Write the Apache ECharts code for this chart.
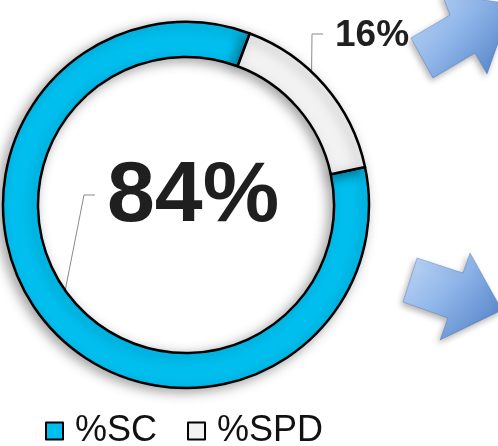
<!DOCTYPE html>
<html>
<head>
<meta charset="utf-8">
<title>%SC vs %SPD</title>
<script src="https://cdn.jsdelivr.net/npm/echarts@6/dist/echarts.min.js"></script>
<style>
  html, body { margin: 0; padding: 0; background: #fff; }
  #chart { width: 498px; height: 446px; }
</style>
</head>
<body>
<div id="chart"></div>
<script>
// data
const categories = ['%SC', '%SPD']
const values     = [84, 16]

const COLOR_SC  = '#00bfef'
const COLOR_SPD = '#f2f2f2'

const CENTER      = [186, 205]
const RADIUS      = [148, 183]
const START_ANGLE = 12
// where the label text sits (left / middle)
const LABEL_POS   = [[107, 197], [335, 36]]
const LABEL_SIZE  = [86, 37]

const total = values.reduce((a, b) => a + b, 0)

// anchor of the leader line: middle of the ring at the slice's mid angle
function anchorOf(i) {
  let before = 0
  for (let k = 0; k < i; k++) before += values[k]
  const mid = (START_ANGLE - (before + values[i] / 2) / total * 360) * Math.PI / 180
  const r = (RADIUS[0] + RADIUS[1]) / 2
  return [CENTER[0] + r * Math.cos(mid), CENTER[1] - r * Math.sin(mid)]
}

// decorative block arrows on the right
const arrowFill = new echarts.graphic.LinearGradient(0, 0, 1, 1, [
  { offset: 0, color: '#c3daf7' },
  { offset: 0.45, color: '#8fb5e9' },
  { offset: 1, color: '#4a7bc2' },
])
const arrowStyle = {
  fill: arrowFill,
  stroke: 'rgba(60,100,170,0.35)',
  lineWidth: 1,
  shadowBlur: 6,
  shadowColor: 'rgba(0,0,0,0.3)',
  shadowOffsetX: -2,
  shadowOffsetY: 3,
}

const chart = echarts.init(document.getElementById('chart'))

chart.setOption({
  animation: false,
  backgroundColor: '#fff',
  legend: {
    data: categories,
    left: 40,
    top: 408,
    itemWidth: 17,
    itemHeight: 17,
    itemGap: 30,
    icon: 'rect',
    itemStyle: { borderColor: '#000', borderWidth: 2 },
    textStyle: {
      fontFamily: 'Liberation Sans, Arial, sans-serif',
      fontSize: 36,
      color: '#111',
      padding: [0, 0, 0, 7],
    },
  },
  graphic: [
    {
      type: 'polygon',
      shape: { points: [[411, 38], [450, 15], [442, -6], [512, 4], [487, 74], [475, 53], [433, 78]] },
      style: arrowStyle,
    },
    {
      type: 'polygon',
      shape: { points: [[417, 258], [463, 273], [470, 253], [502, 310], [440, 340], [448, 318], [403, 302]] },
      style: arrowStyle,
    },
  ],
  series: [
    {
      type: 'pie',
      center: CENTER,
      radius: RADIUS,
      startAngle: START_ANGLE,
      clockwise: true,
      avoidLabelOverlap: false,
      silent: true,
      itemStyle: {
        borderColor: '#000',
        borderWidth: 2.5,
        shadowBlur: 12,
        shadowColor: 'rgba(0,0,0,0.35)',
        shadowOffsetX: -4,
        shadowOffsetY: 3,
      },
      label: {
        show: true,
        position: 'outside',
        formatter: '{c}%',
        fontFamily: 'Liberation Sans, Arial, sans-serif',
        fontWeight: 'bold',
        color: '#1f1f1f',
      },
      labelLine: {
        show: true,
        lineStyle: { color: '#8a8a8a', width: 1 },
      },
      labelLayout(params) {
        const i = params.dataIndex
        const [x, y] = LABEL_POS[i]
        return {
          x, y,
          align: 'left',
          verticalAlign: 'middle',
          labelLinePoints: [anchorOf(i), [x - 23, y - 2], [x - 12, y - 2]],
        }
      },
      data: categories.map((name, i) => ({
        name,
        value: values[i],
        itemStyle: { color: i === 0 ? COLOR_SC : COLOR_SPD },
        label: { fontSize: LABEL_SIZE[i] },
      })),
    },
  ],
})
</script>
</body>
</html>
